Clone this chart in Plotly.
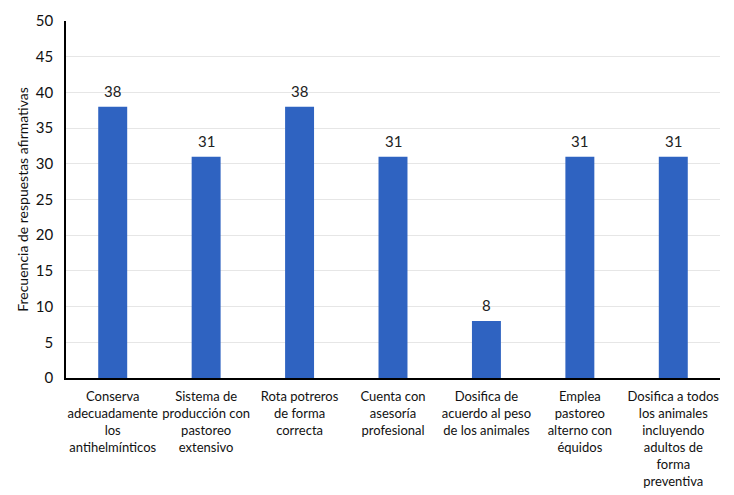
import plotly.graph_objects as go

categories = [
    "Conserva<br>adecuadamente<br>los<br>antihelmínticos",
    "Sistema de<br>producción con<br>pastoreo<br>extensivo",
    "Rota potreros<br>de forma<br>correcta",
    "Cuenta con<br>asesoría<br>profesional",
    "Dosifica de<br>acuerdo al peso<br>de los animales",
    "Emplea<br>pastoreo<br>alterno con<br>équidos",
    "Dosifica a todos<br>los animales<br>incluyendo<br>adultos de<br>forma<br>preventiva",
]
values = [38, 31, 38, 31, 8, 31, 31]

fig = go.Figure(go.Bar(
    x=categories, y=values,
    marker=dict(color="#2F63C1", line=dict(width=0)),
))

for c, v in zip(categories, values):
    fig.add_annotation(x=c, y=v, text=str(v), showarrow=False,
                       yanchor="bottom", yshift=5,
                       font=dict(size=15, color="#222222"))

fig.update_layout(
    width=734, height=495,
    margin=dict(l=58, r=22, t=13, b=125),
    paper_bgcolor="white", plot_bgcolor="white",
    font=dict(family="Lato, Liberation Sans, sans-serif", color="#111111"),
    bargap=0.69,
    showlegend=False,
    yaxis=dict(
        range=[0, 50], dtick=5, showgrid=True, gridcolor="#E6E6E6", gridwidth=1,
        showline=True, linecolor="black", linewidth=1.5, ticks="",
        tickfont=dict(size=15), zeroline=False, automargin=False,
        ticklabelstandoff=8,
        title=dict(text="Frecuencia de respuestas afirmativas", font=dict(size=14), standoff=4),
    ),
    xaxis=dict(
        showline=True, linecolor="black", linewidth=1.5, ticks="",
        tickfont=dict(size=13), tickangle=0, automargin=False,
        ticklabelstandoff=6,
    ),
)

fig.write_html("out.html")
